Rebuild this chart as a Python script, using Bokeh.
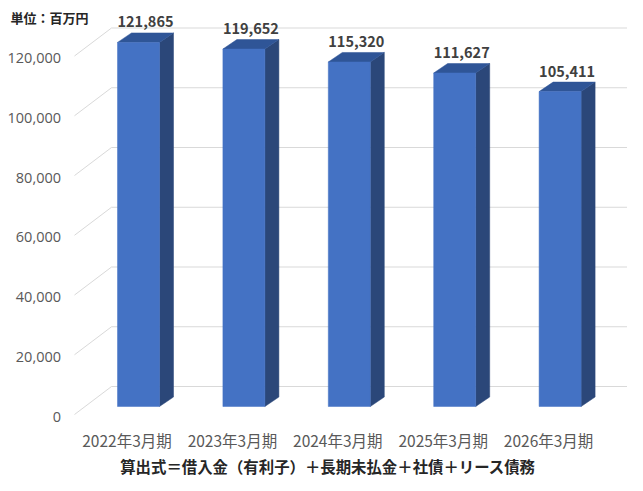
from bokeh.plotting import figure
from bokeh.models import Range1d, ColumnDataSource
from bokeh.core.properties import value
from bokeh.embed import file_html
from bokeh.resources import INLINE

# ---- data ----
categories = ["2022年3月期", "2023年3月期", "2024年3月期", "2025年3月期", "2026年3月期"]
values = [121865, 119652, 115320, 111627, 105411]
y_ticks = [0, 20000, 40000, 60000, 80000, 100000, 120000]
unit_text = "単位：百万円"
footer_text = "算出式＝借入金（有利子）＋長期未払金＋社債＋リース債務"

# ---- layout (pixels in the picture) ----
W, H = 627, 475
PAGE_X, PAGE_Y = 0, 0             # figure origin in the picture
UX = 105.4                        # px per category step
UY = 59.75 / 20000                # px per value unit
XC0 = 126.5                       # x of category 0 (floor front)
YV0 = 414.0                       # y of value 0 (floor front)
WALL = (37, -28)
BAR_OFF = (11.5, -8)
BAR_D = (14, -9.5)
BAR_W = 42

def X(px):
    return (px - XC0) / UX

def Y(py):
    return (YV0 - py) / UY

def dx(px):
    return px / UX

def dy(px):
    return -px / UY

FONT = "Noto Sans CJK JP"
NUM_FONT = "Open Sans"

p = figure(width=W, height=H, output_backend="svg", toolbar_location=None,
           x_range=Range1d(X(PAGE_X), X(PAGE_X + W)),
           y_range=Range1d(Y(PAGE_Y + H), Y(PAGE_Y)),
           min_border=0, x_axis_type=None, y_axis_type=None)
p.outline_line_color = None
p.xgrid.visible = False
p.ygrid.visible = False
p.background_fill_color = "white"
p.border_fill_color = "white"

# side-wall diagonals and back-wall gridlines
gx0, gy0, gx1, gy1 = [], [], [], []
hx0, hy0, hx1, hy1 = [], [], [], []
for t in y_ticks:
    gx0.append(X(74)); gy0.append(t)
    gx1.append(X(74) + dx(WALL[0])); gy1.append(t + dy(WALL[1]))
    hx0.append(X(74) + dx(WALL[0])); hy0.append(t + dy(WALL[1]))
    hx1.append(X(640)); hy1.append(t + dy(WALL[1]))
p.segment(gx0, gy0, gx1, gy1, line_color="#d9d9d9", line_width=1)
p.segment(hx0, hy0, hx1, hy1, line_color="#d9d9d9", line_width=1)

# y tick labels
p.text(x=[X(60.5)] * len(y_ticks), y=[t + dy(2) for t in y_ticks],
       text=[f"{t:,}" for t in y_ticks], text_align="right", text_baseline="middle",
       text_font=value(NUM_FONT), text_font_size="14.5px", text_color="#595959")

# bars
xs = list(range(len(categories)))
lefts = [x + dx(BAR_OFF[0] - BAR_W / 2) for x in xs]
rights = [x + dx(BAR_OFF[0] + BAR_W / 2) for x in xs]
bots = [dy(BAR_OFF[1]) for _ in xs]
tops = [v + dy(BAR_OFF[1]) for v in values]

side_xs, side_ys, top_xs, top_ys = [], [], [], []
for l, r, b, t in zip(lefts, rights, bots, tops):
    ddx, ddy = dx(BAR_D[0]), dy(BAR_D[1])
    side_xs.append([r, r + ddx, r + ddx, r])
    side_ys.append([b, b + ddy, t + ddy, t])
    top_xs.append([l, r, r + ddx, l + ddx])
    top_ys.append([t, t, t + ddy, t + ddy])

p.patches(side_xs, side_ys, fill_color="#2B4779", line_color="#2B4779", line_width=0.5)
p.patches(top_xs, top_ys, fill_color="#2F5597", line_color="#2F5597", line_width=0.5)
p.quad(left=lefts, right=rights, bottom=bots, top=tops,
       fill_color="#4472C4", line_color="#4472C4", line_width=0.5)

# data labels
lab_src = ColumnDataSource(dict(
    x=[x + dx(BAR_OFF[0] + BAR_D[0] / 2) for x in xs],
    y=[t + dy(BAR_D[1]) + dy(-11) for t in tops],
    text=[f"{v:,}" for v in values]))
p.text(x="x", y="y", text="text", source=lab_src, text_align="center",
       text_baseline="middle", text_font=value(FONT), text_font_size="14.5px",
       text_font_style="bold", text_color="#404040")

# category labels
p.text(x=xs, y=[Y(439)] * len(xs), text=categories, text_align="center",
       text_baseline="middle", text_font=value(FONT), text_font_size="15.5px",
       text_color="#595959")

# unit text and footer
p.text(x=[X(10)], y=[Y(17)], text=[unit_text], text_align="left", text_baseline="middle",
       text_font=value(FONT), text_font_size="13px", text_font_style="bold",
       text_color="#262626")
p.text(x=[X(327.5)], y=[Y(465)], text=[footer_text], text_align="center",
       text_baseline="middle", text_font=value(FONT), text_font_size="15.4px",
       text_font_style="bold", text_color="#262626")

open("out.html", "w").write(file_html(p, INLINE))
